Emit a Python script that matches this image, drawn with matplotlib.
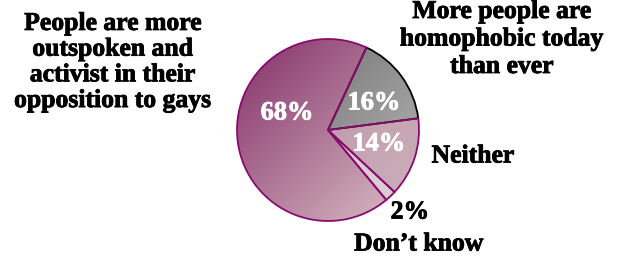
import matplotlib.pyplot as plt
import matplotlib.patheffects as pe
import numpy as np
from matplotlib.colors import LinearSegmentedColormap

# data
labels = ["More people are\nhomophobic today\nthan ever", "Neither", "Don't know",
          "People are more\noutspoken and\nactivist in their\nopposition to gays"]
values = [16, 14, 2, 68]
grad_from = ["#646464", "#b48c9c", "#d6c6cb", "#843068"]
grad_to = ["#bcbcbc", "#cdb2bc", "#dccfd3", "#dcc2c8"]
edges = ["black", "#880a6e", "#880a6e", "#880a6e"]

W, H = 618, 258
fig = plt.figure(figsize=(W / 100, H / 100), dpi=100)
cx, cy, r = 328, 130, 91
hs = r * 1.02
ax = fig.add_axes([(cx - hs) / W, (H - cy - hs) / H, 2 * hs / W, 2 * hs / H])

wedges, _ = ax.pie(values, startangle=65, counterclock=False, radius=1,
                   wedgeprops=dict(linewidth=1.3, facecolor='none'))
ax.set_xlim(-1.02, 1.02)
ax.set_ylim(-1.02, 1.02)
ax.axis('off')

# diagonal gradient fills clipped to each wedge
xx, yy = np.meshgrid(np.linspace(0, 1, 200), np.linspace(0, 1, 200))
t = (xx + yy) / 2
for w, c0, c1, ec in zip(wedges, grad_from, grad_to, edges):
    w.set_edgecolor(ec)
    w.set_zorder(3)
    cmap = LinearSegmentedColormap.from_list('g', [c0, c1])
    im = ax.imshow(t, cmap=cmap, extent=[-1, 1, -1, 1], origin='upper', zorder=1)
    im.set_clip_path(w)
# purple boundaries over the black edge of the gray slice
for w in wedges[1:]:
    w.set_zorder(4)

font = dict(family='Liberation Serif', weight='bold')


def ftext(x, y, s, size=18.5, ls=1.15, color='black', **kw):
    # thin stroke in the same colour to get the heavier look of the original
    fig.text(x / W, 1 - y / H, s, fontsize=size, ha='center', va='center',
             linespacing=ls, color=color, **font, **kw,
             path_effects=[pe.withStroke(linewidth=0.6, foreground=color)])


# percentages inside the pie
pct_xy = [(374, 103), (379, 144), None, (287, 113)]
for v, p in zip(values, pct_xy):
    if p:
        ftext(p[0], p[1], f"{v}%", size=19, color='white', zorder=5)

ftext(113, 62, labels[3])
ftext(502, 39, labels[0], ls=1.25)
ftext(473, 156, labels[1])
ftext(410, 212, f"{values[2]}%")
ftext(419, 244, labels[2].replace("'", "\u2019"))

fig.savefig('out.png', dpi=100)
